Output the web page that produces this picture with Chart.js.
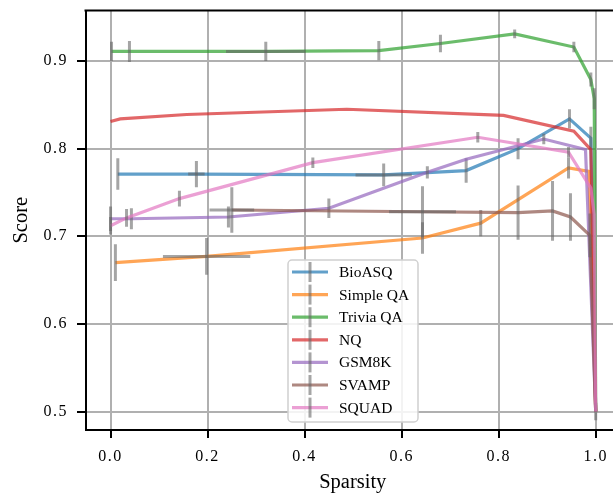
<!DOCTYPE html>
<html>
<head>
<meta charset="utf-8">
<script src="https://cdn.jsdelivr.net/npm/chart.js@4.4.1/dist/chart.umd.min.js"></script>
<style>
  html, body { margin: 0; padding: 0; background: #ffffff; overflow: hidden; width: 613px; height: 495px; }
  canvas { display: block; }
</style>
</head>
<body>
<canvas id="c" width="640" height="495"></canvas>
<script>
// ---------------- data ----------------
const seriesNames = ["BioASQ", "Simple QA", "Trivia QA", "NQ", "GSM8K", "SVAMP", "SQUAD"];
const seriesColors = ["31,119,180", "255,127,14", "44,160,44", "214,39,40", "148,103,189", "140,86,75", "227,119,194"];

const bioasqX    = [0.015, 0.177, 0.563, 0.733, 0.840, 0.946, 0.990, 1.000];
const bioasqY    = [0.771, 0.771, 0.770, 0.775, 0.800, 0.834, 0.812, 0.500];
const bioasqYErr = [0.018, 0.015, 0.013, 0.014, 0.012, 0.011, 0.013, 0.000];
const bioasqXErr = [0.000, 0.017, 0.058, 0.000, 0.000, 0.000, 0.000, 0.000];

const simpleqaX    = [0.010, 0.198, 0.643, 0.763, 0.944, 0.986, 1.000];
const simpleqaY    = [0.670, 0.677, 0.698, 0.715, 0.778, 0.774, 0.500];
const simpleqaYErr = [0.021, 0.021, 0.018, 0.015, 0.012, 0.000, 0.000];
const simpleqaXErr = [0.000, 0.090, 0.000, 0.000, 0.000, 0.000, 0.000];

const triviaX    = [0.002, 0.039, 0.320, 0.553, 0.680, 0.833, 0.955, 0.990, 0.997, 1.000];
const triviaY    = [0.911, 0.911, 0.911, 0.912, 0.920, 0.931, 0.916, 0.879, 0.857, 0.500];
const triviaYErr = [0.011, 0.012, 0.011, 0.011, 0.010, 0.005, 0.006, 0.008, 0.012, 0.000];
const triviaXErr = [0.000, 0.000, 0.082, 0.000, 0.000, 0.000, 0.000, 0.000, 0.000, 0.000];

const nqX    = [0.000, 0.020, 0.157, 0.487, 0.810, 0.955, 0.990, 1.000];
const nqY    = [0.831, 0.834, 0.839, 0.845, 0.838, 0.820, 0.799, 0.500];
const nqYErr = [0.000, 0.000, 0.000, 0.000, 0.000, 0.000, 0.000, 0.000];
const nqXErr = [0.000, 0.000, 0.000, 0.000, 0.000, 0.000, 0.000, 0.000];

const gsm8kX    = [0.000, 0.043, 0.243, 0.450, 0.653, 0.733, 0.893, 0.979, 1.000];
const gsm8kY    = [0.720, 0.720, 0.722, 0.732, 0.773, 0.788, 0.811, 0.799, 0.500];
const gsm8kYErr = [0.014, 0.012, 0.012, 0.011, 0.007, 0.000, 0.006, 0.000, 0.000];
const gsm8kXErr = [0.000, 0.000, 0.000, 0.000, 0.000, 0.000, 0.000, 0.000, 0.000];

const svampX    = [0.250, 0.643, 0.840, 0.911, 0.948, 0.988, 1.000];
const svampY    = [0.730, 0.728, 0.727, 0.729, 0.722, 0.701, 0.500];
const svampYErr = [0.026, 0.029, 0.031, 0.034, 0.027, 0.025, 0.010];
const svampXErr = [0.046, 0.069, 0.000, 0.000, 0.000, 0.000, 0.000];

const squadX    = [0.000, 0.033, 0.142, 0.417, 0.757, 0.944, 0.990, 0.997, 1.000];
const squadY    = [0.712, 0.721, 0.743, 0.784, 0.813, 0.796, 0.755, 0.725, 0.500];
const squadYErr = [0.010, 0.010, 0.009, 0.006, 0.006, 0.006, 0.000, 0.000, 0.000];
const squadXErr = [0.000, 0.000, 0.000, 0.000, 0.000, 0.000, 0.000, 0.000, 0.000];

const xTickStep = 0.2;
const yTickStep = 0.1;
const xLabel = "Sparsity";
const yLabel = "Score";

// ---------------- assembly ----------------
const allX = [bioasqX, simpleqaX, triviaX, nqX, gsm8kX, svampX, squadX];
const allY = [bioasqY, simpleqaY, triviaY, nqY, gsm8kY, svampY, squadY];
const allYErr = [bioasqYErr, simpleqaYErr, triviaYErr, nqYErr, gsm8kYErr, svampYErr, squadYErr];
const allXErr = [bioasqXErr, simpleqaXErr, triviaXErr, nqXErr, gsm8kXErr, svampXErr, squadXErr];

const LINE_ALPHA = 0.7;
const ERR_COLOR = 'rgba(100,100,100,0.58)';
const SERIF = '"Liberation Serif", "DejaVu Serif", serif';
const TICK_SPACING = '1.5px';

const datasets = seriesNames.map((name, i) => ({
  label: name,
  data: allX[i].map((x, j) => ({ x: x, y: allY[i][j] })),
  borderColor: `rgba(${seriesColors[i]},${LINE_ALPHA})`,
  backgroundColor: `rgba(${seriesColors[i]},${LINE_ALPHA})`,
  borderWidth: 3.2,
  pointRadius: 0,
  pointHoverRadius: 0,
  tension: 0,
  fill: false,
  order: seriesNames.length - i,
  borderJoinStyle: 'miter',
  borderCapStyle: 'butt'
}));

const errorBarPlugin = {
  id: 'errbars',
  beforeDraw(chart) {
    try { chart.ctx.letterSpacing = TICK_SPACING; } catch (e) {}
  },
  afterDatasetDraw(chart, args) {
    const i = args.index;
    const ctx = chart.ctx, xs = chart.scales.x, ys = chart.scales.y, ca = chart.chartArea;
    ctx.save();
    ctx.beginPath();
    ctx.rect(ca.left, ca.top, ca.right - ca.left, ca.bottom - ca.top);
    ctx.clip();
    ctx.strokeStyle = ERR_COLOR;
    ctx.lineWidth = 3;
    ctx.lineCap = 'butt';
    allX[i].forEach((x, j) => {
      const y = allY[i][j];
      const ye = allYErr[i][j], xe = allXErr[i][j];
      if (ye > 0) {
        const px = xs.getPixelForValue(x);
        ctx.beginPath();
        ctx.moveTo(px, ys.getPixelForValue(y - ye));
        ctx.lineTo(px, ys.getPixelForValue(y + ye));
        ctx.stroke();
      }
      if (xe > 0) {
        const py = ys.getPixelForValue(y);
        ctx.beginPath();
        ctx.moveTo(xs.getPixelForValue(x - xe), py);
        ctx.lineTo(xs.getPixelForValue(x + xe), py);
        ctx.stroke();
      }
    });
    ctx.restore();
  }
};

const decorPlugin = {
  id: 'decor',
  afterDraw(chart) {
    const ctx = chart.ctx, ca = chart.chartArea;
    try { ctx.letterSpacing = '0px'; } catch (e) {}
    ctx.save();
    // top spine
    ctx.strokeStyle = '#000';
    ctx.lineWidth = 2;
    ctx.beginPath();
    ctx.moveTo(ca.left - 1, ca.top);
    ctx.lineTo(ca.right, ca.top);
    ctx.stroke();

    // axis titles
    ctx.fillStyle = '#000';
    ctx.font = '20.5px ' + SERIF;
    ctx.textAlign = 'center';
    ctx.textBaseline = 'alphabetic';
    ctx.fillText(xLabel, (ca.left + ca.right) / 2, 488);
    ctx.save();
    ctx.translate(27, (ca.top + ca.bottom) / 2);
    ctx.rotate(-Math.PI / 2);
    ctx.fillText(yLabel, 0, 0);
    ctx.restore();

    // legend
    const bx = ca.left + 202.5, by = 260, bw = 130, bh = 162, r = 4;
    ctx.beginPath();
    ctx.moveTo(bx + r, by);
    ctx.lineTo(bx + bw - r, by);
    ctx.arcTo(bx + bw, by, bx + bw, by + r, r);
    ctx.lineTo(bx + bw, by + bh - r);
    ctx.arcTo(bx + bw, by + bh, bx + bw - r, by + bh, r);
    ctx.lineTo(bx + r, by + bh);
    ctx.arcTo(bx, by + bh, bx, by + bh - r, r);
    ctx.lineTo(bx, by + r);
    ctx.arcTo(bx, by, bx + r, by, r);
    ctx.closePath();
    ctx.fillStyle = 'rgba(255,255,255,0.85)';
    ctx.fill();
    ctx.strokeStyle = '#d0d0d0';
    ctx.lineWidth = 1.5;
    ctx.stroke();

    ctx.font = '15.5px ' + SERIF;
    ctx.textAlign = 'left';
    ctx.textBaseline = 'middle';
    seriesNames.forEach((name, i) => {
      const ry = by + 12 + i * 22.6;
      ctx.strokeStyle = `rgba(${seriesColors[i]},${LINE_ALPHA})`;
      ctx.lineWidth = 3.2;
      ctx.beginPath();
      ctx.moveTo(bx + 4, ry);
      ctx.lineTo(bx + 40, ry);
      ctx.stroke();
      ctx.strokeStyle = ERR_COLOR;
      ctx.lineWidth = 3;
      ctx.beginPath();
      ctx.moveTo(bx + 22, ry - 10);
      ctx.lineTo(bx + 22, ry + 10);
      ctx.stroke();
      ctx.fillStyle = '#000';
      ctx.fillText(name, bx + 51, ry + 1);
    });
    ctx.restore();
  }
};

const tickFont = { family: SERIF, size: 16 };

new Chart(document.getElementById('c'), {
  type: 'line',
  data: { datasets: datasets },
  plugins: [errorBarPlugin, decorPlugin],
  options: {
    responsive: false,
    animation: false,
    devicePixelRatio: 1,
    layout: { padding: { top: 10.5, right: 20, left: 0, bottom: 0 } },
    plugins: { legend: { display: false }, tooltip: { enabled: false }, title: { display: false } },
    events: [],
    scales: {
      x: {
        type: 'linear',
        min: -0.0516,
        max: 1.0501,
        afterFit(scale) { scale.height = 65; scale.paddingLeft = 0; scale.paddingRight = 0; },
        ticks: {
          stepSize: xTickStep,
          includeBounds: false,
          autoSkip: false,
          maxRotation: 0,
          padding: 9,
          color: '#000',
          font: tickFont,
          callback: (v) => Number(v).toFixed(1)
        },
        grid: { color: '#b0b0b0', lineWidth: 2, tickColor: '#000', tickLength: 8, tickWidth: 2, drawTicks: true },
        border: { display: true, color: '#000', width: 2 }
      },
      y: {
        type: 'linear',
        min: 0.4789,
        max: 0.9577,
        afterFit(scale) { scale.width = 85.5; scale.paddingTop = 0; scale.paddingBottom = 0; },
        ticks: {
          stepSize: yTickStep,
          includeBounds: false,
          autoSkip: false,
          padding: 9,
          color: '#000',
          font: tickFont,
          callback: (v) => Number(v).toFixed(1)
        },
        grid: { color: '#b0b0b0', lineWidth: 2, tickColor: '#000', tickLength: 8.5, tickWidth: 2, drawTicks: true },
        border: { display: true, color: '#000', width: 2 }
      }
    }
  }
});
</script>
</body>
</html>
